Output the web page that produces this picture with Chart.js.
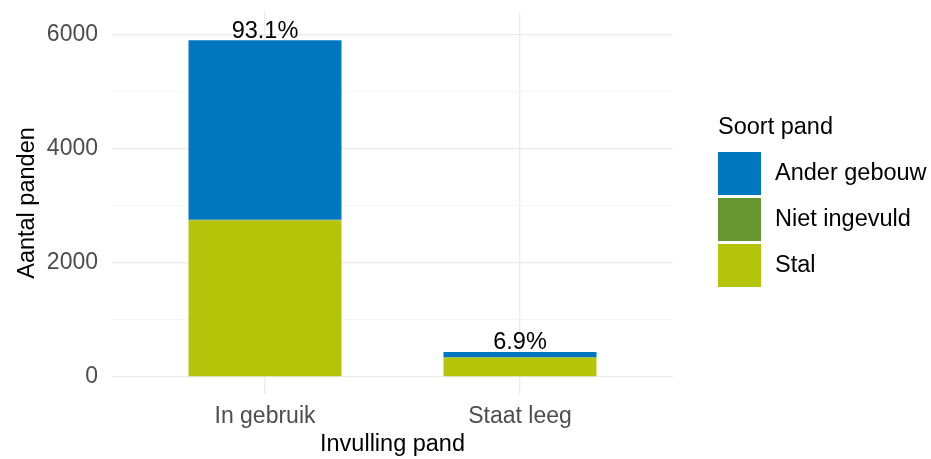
<!DOCTYPE html>
<html>
<head>
<meta charset="utf-8">
<script src="https://cdn.jsdelivr.net/npm/chart.js@4/dist/chart.umd.min.js"></script>
<style>
  html, body { margin: 0; padding: 0; background: #fff; }
  #wrap { width: 931px; height: 459px; position: relative; }
</style>
</head>
<body>
<div id="wrap"><canvas id="vb-chart"></canvas></div>
<script>
/* Data */
var categories   = ['In gebruik', 'Staat leeg'];
var stal         = [2745, 338];
var nietIngevuld = [12, 4];
var anderGebouw  = [3148, 96];
var yTicks       = [0, 1000, 2000, 3000, 4000, 5000, 6000];

var FONT = "'Liberation Sans', Arial, sans-serif";

function pts(arr) {
    return arr.map(function(v, i) { return { x: i + 1, y: v }; });
}

/* ── Percent labels above the stacks ── */
var pctLabels = {
    id: 'pctLabels',
    afterDatasetsDraw: function(chart) {
        var ds = chart.data.datasets, totals = [], grand = 0;
        for (var i = 0; i < categories.length; i++) {
            var t = 0;
            for (var d = 0; d < ds.length; d++) t += ds[d].data[i].y;
            totals.push(t); grand += t;
        }
        var ctx = chart.ctx, xs = chart.scales.x, ys = chart.scales.y;
        ctx.save();
        ctx.font = '23.5px ' + FONT;
        ctx.fillStyle = '#000';
        ctx.textAlign = 'center';
        ctx.textBaseline = 'middle';
        for (var j = 0; j < totals.length; j++) {
            var pct = (totals[j] / grand * 100).toFixed(1) + '%';
            ctx.fillText(pct, xs.getPixelForValue(j + 1), ys.getPixelForValue(totals[j]) - 9);
        }
        ctx.restore();
    }
};

/* ── ggplot-like legend on the right ── */
var sideLegend = {
    id: 'sideLegend',
    afterDraw: function(chart) {
        var ctx = chart.ctx, ds = chart.data.datasets;
        ctx.save();
        ctx.font = '23.5px ' + FONT;
        ctx.fillStyle = '#000';
        ctx.textBaseline = 'middle';
        ctx.textAlign = 'left';
        ctx.fillText('Soort pand', 718, 128);
        var order = [2, 1, 0];
        for (var k = 0; k < order.length; k++) {
            var top = 152 + k * 46;
            ctx.fillStyle = ds[order[k]].backgroundColor;
            ctx.fillRect(718, top, 43, 43);
            ctx.fillStyle = '#000';
            ctx.fillText(ds[order[k]].label, 775, top + 22);
        }
        ctx.restore();
    }
};

new Chart(document.getElementById('vb-chart'), {
    type: 'bar',
    data: {
        datasets: [
            { label: 'Stal',          data: pts(stal),         backgroundColor: '#B4C408' },
            { label: 'Niet ingevuld', data: pts(nietIngevuld), backgroundColor: '#66962D' },
            { label: 'Ander gebouw',  data: pts(anderGebouw),  backgroundColor: '#0077C0' }
        ]
    },
    options: {
        responsive: true, maintainAspectRatio: false, animation: false,
        categoryPercentage: 1, barPercentage: 0.6,
        layout: { padding: { left: 0, right: 258, top: 12, bottom: 0 } },
        plugins: { legend: { display: false }, tooltip: { enabled: false } },
        scales: {
            x: {
                type: 'linear', stacked: true, min: 0.4, max: 2.6, offset: false,
                afterBuildTicks: function(s) { s.ticks = [{ value: 1 }, { value: 2 }]; },
                afterFit: function(s) { s.height = 65; s.paddingLeft = 0; s.paddingRight = 0; },
                border: { display: false },
                grid: { color: '#EBEBEB', lineWidth: 1.3, drawTicks: false, offset: false },
                ticks: {
                    padding: 9, color: '#4D4D4D', font: { family: FONT, size: 23 },
                    callback: function(v) { return categories[v - 1]; }
                },
                title: { display: true, text: 'Invulling pand', color: '#000',
                         font: { family: FONT, size: 23.5 }, padding: { top: 0, bottom: 0 } }
            },
            y: {
                stacked: true, min: -300, max: 6400,
                afterBuildTicks: function(s) { s.ticks = yTicks.map(function(v) { return { value: v }; }); },
                afterFit: function(s) { s.width = 112; s.paddingTop = 0; s.paddingBottom = 0; },
                border: { display: false },
                grid: {
                    drawTicks: false,
                    color: function(c) { return c.tick && c.tick.value % 2000 === 0 ? '#EBEBEB' : '#F3F3F3'; },
                    lineWidth: function(c) { return c.tick && c.tick.value % 2000 === 0 ? 1.3 : 0.8; }
                },
                ticks: {
                    padding: 14, color: '#4D4D4D', font: { family: FONT, size: 23 },
                    callback: function(v) { return v % 2000 === 0 ? String(v) : ''; }
                },
                title: { display: true, text: 'Aantal panden', color: '#000',
                         font: { family: FONT, size: 23.5 }, padding: { top: 13, bottom: 0 } }
            }
        }
    },
    plugins: [pctLabels, sideLegend]
});
</script>
</body>
</html>
